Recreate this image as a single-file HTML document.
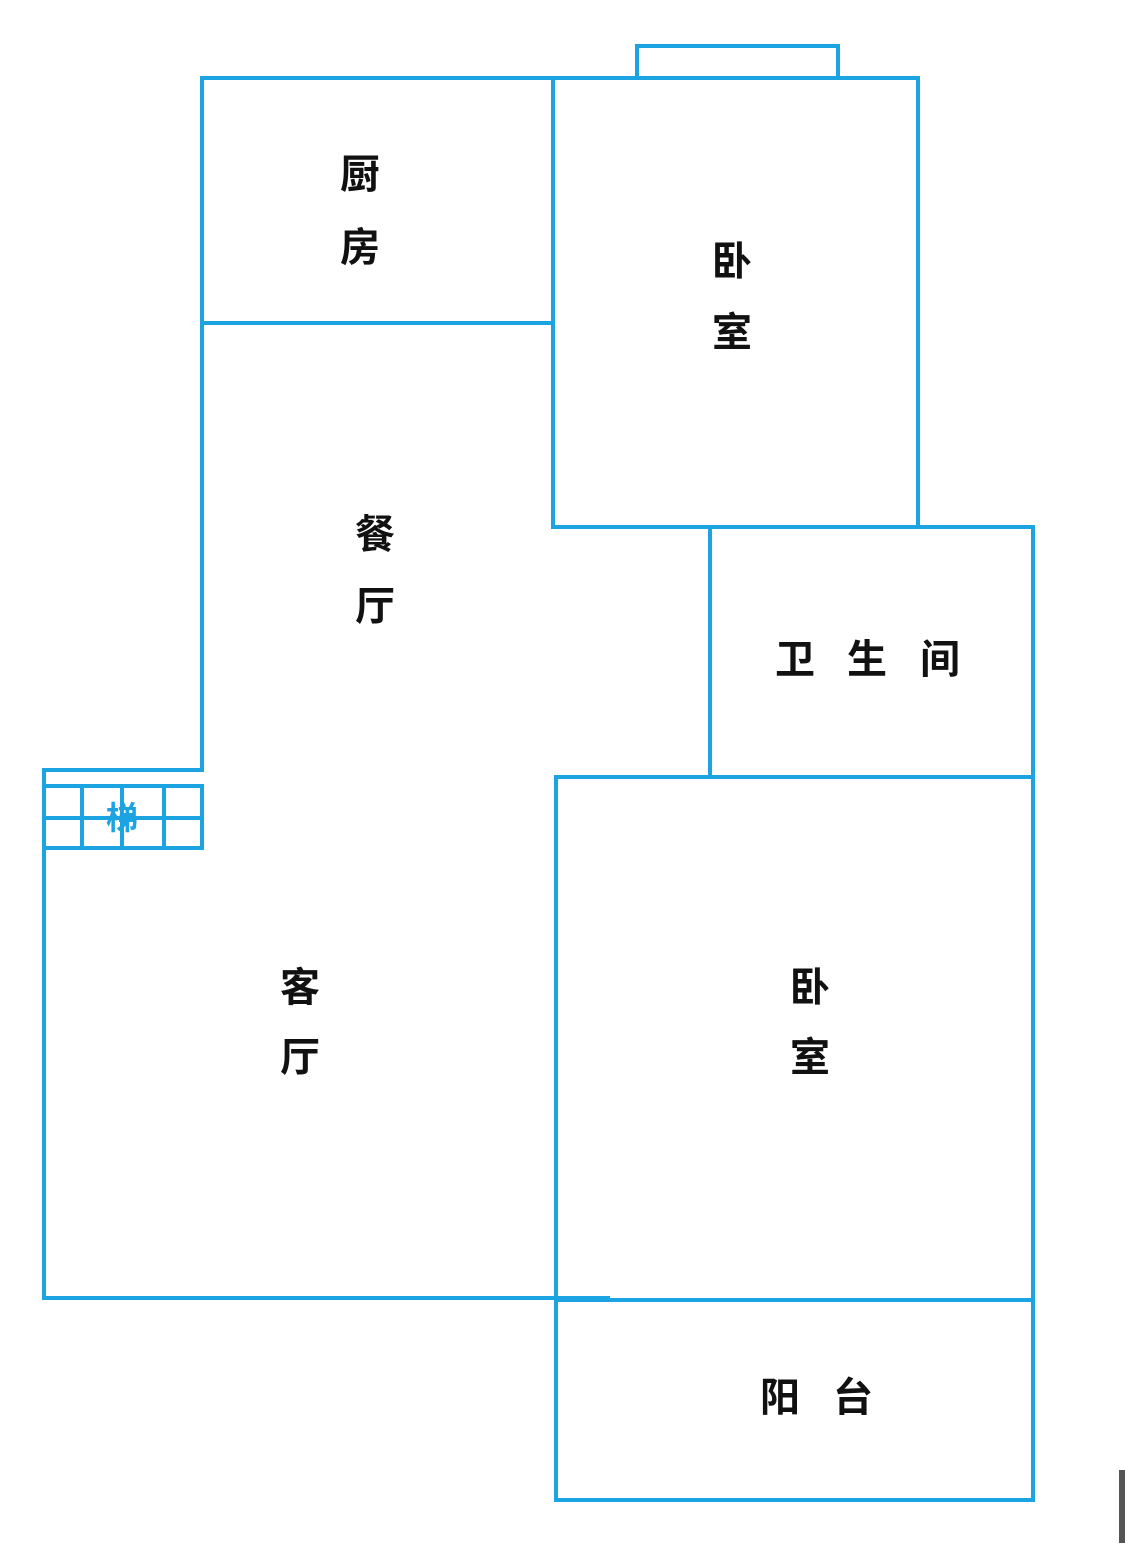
<!DOCTYPE html>
<html><head><meta charset="utf-8"><style>
body{margin:0;background:#fff;width:1125px;height:1543px;overflow:hidden}
</style></head><body>
<svg width="1125" height="1543" viewBox="0 0 1125 1543" xmlns="http://www.w3.org/2000/svg">
<g stroke="#1ba3e2" stroke-width="4" fill="none" stroke-linecap="square">
<line x1="202" y1="78" x2="918" y2="78"/>
<polyline points="637,78 637,46 838,46 838,78"/>
<line x1="202" y1="78" x2="202" y2="770"/>
<line x1="202" y1="323" x2="553" y2="323"/>
<line x1="553" y1="78" x2="553" y2="527"/>
<line x1="918" y1="78" x2="918" y2="527"/>
<line x1="553" y1="527" x2="1033" y2="527"/>
<line x1="710" y1="527" x2="710" y2="777"/>
<line x1="1033" y1="527" x2="1033" y2="1500"/>
<line x1="556" y1="777" x2="1033" y2="777"/>
<line x1="556" y1="777" x2="556" y2="1500"/>
<line x1="556" y1="1300" x2="1033" y2="1300"/>
<line x1="556" y1="1500" x2="1033" y2="1500"/>
<line x1="44" y1="1298" x2="608" y2="1298"/>
<line x1="44" y1="770" x2="44" y2="1298"/>
<line x1="44" y1="770" x2="202" y2="770"/>
<line x1="44" y1="786" x2="202" y2="786"/>
<line x1="44" y1="818" x2="202" y2="818"/>
<line x1="44" y1="848" x2="202" y2="848"/>
<line x1="82" y1="786" x2="82" y2="848"/>
<line x1="122" y1="786" x2="122" y2="848"/>
<line x1="164" y1="786" x2="164" y2="848"/>
<line x1="202" y1="786" x2="202" y2="848"/>
</g>
<rect x="1119" y="1470" width="6" height="73" fill="#555"/>
<g font-family="'Liberation Sans','Noto Sans CJK SC',sans-serif" font-size="40" font-weight="bold" fill="#111" text-anchor="middle" dominant-baseline="central">
<text x="360" y="175">厨</text><text x="360" y="248">房</text>
<text x="732" y="262">卧</text><text x="732" y="333">室</text>
<text x="375" y="535">餐</text><text x="375" y="607">厅</text>
<text x="795" y="660">卫</text><text x="867" y="660">生</text><text x="940" y="660">间</text>
<text x="300" y="988">客</text><text x="300" y="1058">厅</text>
<text x="810" y="988">卧</text><text x="810" y="1058">室</text>
<text x="780" y="1398">阳</text><text x="853" y="1398">台</text>
<text x="122" y="818" font-size="32" fill="#1ba3e2">梯</text>
</g>
</svg>
</body></html>
